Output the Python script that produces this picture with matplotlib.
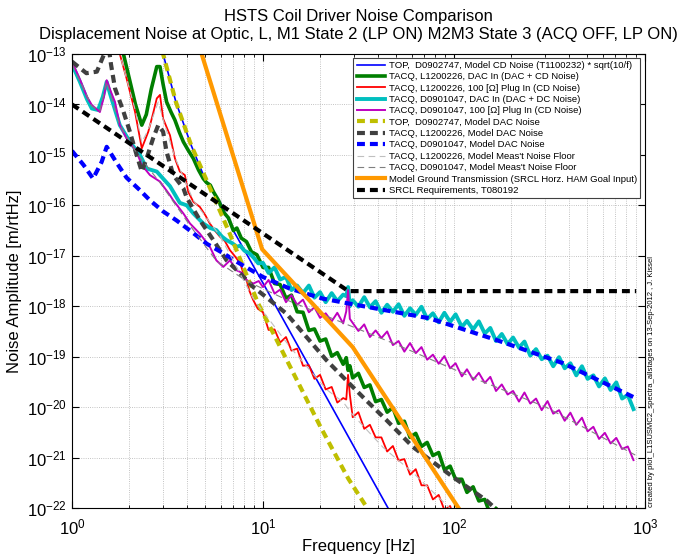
import matplotlib
matplotlib.use('Agg')
import matplotlib.pyplot as plt
import numpy as np

plt.rcParams['font.family'] = ['Liberation Sans', 'DejaVu Sans']
plt.rcParams['mathtext.fontset'] = 'custom'
plt.rcParams['mathtext.rm'] = 'Liberation Sans'
plt.rcParams['mathtext.it'] = 'Liberation Sans:italic'
plt.rcParams['mathtext.bf'] = 'Liberation Sans:bold'

# shared frequency vector [Hz] of the measured spectra above 10 Hz
F_HI = [10.0, 10.7, 11.5, 12.3, 13.2, 14.1, 15.1, 16.2, 17.4, 18.6, 19.9, 21.3, 22.9, 24.5,
        26.3, 27.3, 27.9, 28.5, 29.5, 31.6, 33.9, 36.3, 38.9, 41.7, 44.7, 47.9, 51.3, 55.0,
        58.9, 63.1, 67.6, 72.4, 77.6, 83.2, 89.1, 95.5, 102, 110, 117, 126, 135, 145, 155,
        166, 178, 191, 204, 219, 234, 251, 269, 288, 309, 331, 355, 380, 407, 437, 468, 501,
        537, 575, 617, 661, 708, 759, 813, 871]

# amplitudes are stored as log10 [m/rtHz]
# TACQ L1200226, DAC in
green_f_lo = [1.75, 1.86, 2.0, 2.15, 2.32, 2.45, 2.6, 2.78, 2.89, 3.0, 3.13, 3.3, 3.46, 3.65,
              3.83, 4.05, 4.32, 4.6, 4.87, 5.07, 5.3, 5.5, 5.85, 6.2, 6.6, 7.0, 7.3, 7.7, 8.2,
              8.7, 9.3]
green_lo = [-12.6, -13.0, -13.5, -14.0, -14.41, -14.2, -13.7, -13.25, -13.25, -13.6, -13.95,
            -14.15, -14.31, -14.55, -14.74, -14.9, -15.07, -15.3, -15.47, -15.55, -15.6, -15.73,
            -15.9, -16.13, -16.25, -16.5, -16.45, -16.65, -16.72, -16.92, -16.98]
green_hi = [-17.23, -17.23, -17.55, -17.57, -17.84, -17.78, -18.11, -18.12, -18.48, -18.45,
            -18.69, -18.65, -18.99, -18.92, -19.15, -19.02, -19.27, -19.18, -19.42, -19.33,
            -19.61, -19.56, -19.89, -19.85, -20.10, -20.01, -20.32, -20.28, -20.60, -20.52,
            -20.78, -20.70, -20.96, -20.90, -21.24, -21.17, -21.43, -21.43, -21.69, -21.58,
            -21.86, -21.83, -22.13, -22.01]

# TACQ L1200226, 100 Ohm plug
red_f_lo = [1.7, 1.78, 1.93, 2.14, 2.32, 2.51, 2.65, 2.78, 2.89, 3.0, 3.13, 3.26, 3.46, 3.67,
            3.9, 4.06, 4.32, 4.67, 5.0, 5.27, 5.6, 5.95, 6.3, 6.72, 7.1, 7.6, 7.9, 8.2, 8.5,
            8.9, 9.4]
red_lo = [-12.75, -13.0, -13.48, -14.15, -14.87, -14.54, -14.2, -13.88, -13.81, -14.28, -14.45,
          -14.61, -15.07, -15.33, -15.4, -15.73, -15.93, -16.03, -16.2, -16.36, -16.5, -16.62,
          -16.7, -16.89, -17.0, -17.15, -17.35, -17.48, -17.7, -17.88, -18.05]
red_hi = [-18.12, -18.47, -18.46, -18.72, -18.61, -18.88, -18.84, -19.18, -19.17, -19.44,
          -19.36, -19.65, -19.60, -19.91, -19.82, -19.85, -19.36, -19.75, -20.20, -20.10,
          -20.43, -20.35, -20.60, -20.60, -20.88, -20.77, -21.06, -21.03, -21.34, -21.23,
          -21.55, -21.55, -21.83, -21.74, -22.04, -21.96, -22.29, -22.26]

# TACQ D0901047, DAC in
cyan_f_lo = [1.0, 1.1, 1.2, 1.27, 1.37, 1.45, 1.52, 1.58, 1.65, 1.78, 2.01, 2.27, 2.46, 2.78,
             3.0, 3.26, 3.67, 3.99, 4.32, 4.87, 5.3, 5.7, 6.1, 6.45, 6.9, 7.3, 7.6, 8.0, 8.5,
             9.0, 9.45]
cyan_lo = [-13.2, -13.55, -13.9, -14.08, -14.11, -13.85, -13.55, -13.78, -14.01, -14.41, -14.74,
           -15.0, -15.27, -15.33, -15.47, -15.62, -15.95, -16.0, -16.16, -16.36, -16.45, -16.49,
           -16.62, -16.69, -16.75, -16.82, -16.8, -16.9, -16.95, -17.05, -17.15]
cyan_hi = [-17.14, -17.34, -17.23, -17.47, -17.42, -17.68, -17.59, -17.74, -17.59, -17.83,
           -17.72, -17.92, -17.74, -17.90, -17.77, -17.80, -17.62, -18.00, -17.88, -18.01,
           -17.82, -18.02, -17.90, -18.13, -17.97, -18.11, -17.96, -18.19, -18.04, -18.17,
           -18.01, -18.25, -18.14, -18.32, -18.13, -18.31, -18.16, -18.41, -18.29, -18.46,
           -18.30, -18.54, -18.43, -18.69, -18.55, -18.75, -18.62, -18.82, -18.70, -18.98,
           -18.85, -19.05, -18.98, -19.19, -19.01, -19.23, -19.13, -19.37, -19.19, -19.44,
           -19.37, -19.59, -19.43, -19.66, -19.51, -19.83, -19.76, -20.04]

# TACQ D0901047, 100 Ohm plug
mag_f_lo = [1.0, 1.1, 1.2, 1.27, 1.4, 1.47, 1.52, 1.6, 1.68, 1.78, 1.93, 2.18, 2.32, 2.56, 2.89,
            3.26, 3.39, 3.83, 4.15, 4.67, 5.27, 5.7, 6.2, 6.72, 7.3, 7.9, 8.2, 8.9, 9.5]
mag_lo = [-13.15, -13.5, -13.85, -14.01, -14.15, -13.85, -13.52, -13.75, -13.95, -14.41, -14.67,
          -14.94, -15.2, -15.4, -15.53, -15.8, -15.9, -16.16, -16.36, -16.56, -16.82, -17.09,
          -17.22, -17.09, -17.29, -17.35, -17.48, -17.55, -17.5]
mag_hi = [-17.62, -17.48, -17.75, -17.67, -17.92, -17.78, -17.97, -17.87, -18.12, -18.02,
          -18.23, -18.14, -18.30, -18.13, -18.34, -18.10, -17.68, -18.25, -18.33, -18.49,
          -18.36, -18.61, -18.48, -18.63, -18.50, -18.77, -18.69, -18.90, -18.73, -18.93,
          -18.81, -19.06, -18.96, -19.14, -18.99, -19.23, -19.13, -19.39, -19.25, -19.46,
          -19.32, -19.52, -19.40, -19.68, -19.55, -19.75, -19.68, -19.89, -19.71, -19.93,
          -19.83, -20.06, -19.88, -20.13, -20.06, -20.27, -20.11, -20.35, -20.21, -20.48,
          -20.39, -20.63, -20.51, -20.72, -20.61, -20.83, -20.78, -21.05]

# models
top_cd_f = [2.8, 3.0, 3.5, 4.2, 5.0, 6.0, 7.0, 10, 20, 38, 50]
top_cd = [-12.6, -13.0, -13.95, -14.8, -15.5, -15.95, -16.5, -17.54, -19.59, -21.49, -22.3]

top_dac_f = [2.8, 3.0, 3.5, 4.2, 5.0, 6.7, 9.45, 11.8, 20, 28, 38]
top_dac = [-12.7, -13.0, -13.95, -14.8, -15.45, -16.56, -17.95, -18.67, -20.39, -21.42, -22.2]

l12_dac_f = [1.0, 1.19, 1.35, 1.55, 1.6, 1.68, 1.86, 2.01, 2.18, 2.32, 2.46, 2.66, 2.83, 3.0,
             3.13, 3.39, 3.83, 3.99, 4.67, 5.5, 6.45, 7.6, 8.9, 10.4, 13.3, 16.9, 21.5, 27.3,
             34.8, 44.4, 61, 100, 148, 175]
l12_dac = [-13.15, -13.38, -13.35, -12.8, -13.2, -13.68, -14.14, -14.54, -15.0, -15.33, -15.07,
           -14.67, -14.41, -14.54, -14.94, -15.4, -15.66, -15.85, -16.29, -16.69, -17.09, -17.35,
           -17.62, -17.82, -18.15, -18.61, -19.07, -19.47, -19.87, -20.26, -20.79, -21.4,
           -21.85, -22.1]

d09_dac_f = [1.0, 1.15, 1.29, 1.43, 1.52, 1.71, 1.93, 2.27, 2.56, 3.0, 3.53, 4.32, 5.07, 6.2,
             7.3, 10, 13.8, 20.6, 34.8, 74.5, 167, 373, 870]
d09_dac = [-14.92, -15.2, -15.47, -15.14, -14.84, -15.15, -15.45, -15.7, -15.9, -16.12, -16.3,
           -16.55, -16.76, -16.95, -17.12, -17.42, -17.65, -17.85, -18.01, -18.24, -18.67,
           -19.13, -19.8]

l12_floor_f = [1.75, 2.14, 2.32, 2.51, 2.83, 3.0, 3.46, 4.32, 5.95, 8.9, 13.8, 21.5, 26.3, 29.5,
               42.6, 61, 95]
l12_floor = [-12.9, -14.1, -14.75, -14.5, -13.95, -14.3, -15.05, -15.9, -16.6, -17.85, -18.8,
             -19.65, -19.9, -20.15, -20.8, -21.3, -22.0]

d09_floor_f = [1.0, 1.27, 1.4, 1.52, 1.78, 2.18, 2.89, 4.15, 5.7, 8.2, 13.8, 26.3, 50, 136,
               303, 890]
d09_floor = [-13.2, -14.03, -14.13, -13.55, -14.42, -14.96, -15.55, -16.4, -17.1, -17.5, -17.9,
             -18.33, -18.76, -19.47, -20.0, -20.95]

ground_f = [4.6, 9.9, 29.5, 110]
ground = [-12.8, -16.87, -18.81, -22.1]

srcl_f = [1.0, 28, 900]
srcl = [-14.0, -17.7, -17.7]

labels = ['TOP,  D0902747, Model CD Noise (T1100232) * sqrt(10/f)',
          'TACQ, L1200226, DAC In (DAC + CD Noise)',
          'TACQ, L1200226, 100 [Ω] Plug In (CD Noise)',
          'TACQ, D0901047, DAC In (DAC + DC Noise)',
          'TACQ, D0901047, 100 [Ω] Plug In (CD Noise)',
          'TOP,  D0902747, Model DAC Noise',
          'TACQ, L1200226, Model DAC Noise',
          'TACQ, D0901047, Model DAC Noise',
          "TACQ, L1200226, Model Meas't Noise Floor",
          "TACQ, D0901047, Model Meas't Noise Floor",
          'Model Ground Transmission (SRCL Horz. HAM Goal Input)',
          'SRCL Requirements, T080192']


def meas(f_lo, lo, hi):
    f = np.concatenate([f_lo, F_HI[:len(hi)]])
    return f, 10.0 ** np.concatenate([lo, hi])


fig = plt.figure(figsize=(6.9, 5.54), dpi=100)
ax = fig.add_axes([0.1043, 0.083, 0.8304, 0.8195])

dsh = (0, (1.9, 1.2))
ax.loglog(top_cd_f, 10.0 ** np.array(top_cd), color='#0000ff', lw=1.2, label=labels[0])
ax.loglog(*meas(green_f_lo, green_lo, green_hi), color='#007f00', lw=2.6, label=labels[1])
ax.loglog(*meas(red_f_lo, red_lo, red_hi), color='#ff0000', lw=1.3, label=labels[2])
ax.loglog(*meas(cyan_f_lo, cyan_lo, cyan_hi), color='#00bfbf', lw=2.8, label=labels[3])
ax.loglog(*meas(mag_f_lo, mag_lo, mag_hi), color='#bf00bf', lw=1.4, label=labels[4])
ax.loglog(top_dac_f, 10.0 ** np.array(top_dac), color='#bfbf00', lw=3, ls=dsh, label=labels[5])
ax.loglog(l12_dac_f, 10.0 ** np.array(l12_dac), color='#404040', lw=3, ls=dsh, label=labels[6])
ax.loglog(d09_dac_f, 10.0 ** np.array(d09_dac), color='#0000ff', lw=3, ls=dsh, label=labels[7])
ax.loglog(l12_floor_f, 10.0 ** np.array(l12_floor), color='#bfbfbf', lw=0.8,
          ls=(0, (6, 4)), label=labels[8])
ax.loglog(d09_floor_f, 10.0 ** np.array(d09_floor), color='#7f7f7f', lw=0.8,
          ls=(0, (6, 4)), label=labels[9])
ax.loglog(ground_f, 10.0 ** np.array(ground), color='#ff9900', lw=3, label=labels[10])
ax.loglog(srcl_f, 10.0 ** np.array(srcl), color='black', lw=3, ls=dsh, label=labels[11])

ax.set_xlim(1, 1000)
ax.set_ylim(1e-22, 1e-13)
ax.grid(True, which='both', ls=':', color='#b0b0b0', lw=0.6)
ax.tick_params(which='both', direction='in', top=True, right=True, labelsize=12)
ax.tick_params(axis='x', which='major', pad=7)
ax.tick_params(which='major', length=5)
ax.tick_params(which='minor', length=2.5)
ax.set_yticks([10.0 ** k for k in range(-22, -12)])

ax.set_xlabel('Frequency [Hz]', fontsize=12, labelpad=1)
ax.set_ylabel('Noise Amplitude [m/rtHz]', fontsize=12, labelpad=4)
ax.set_title('HSTS Coil Driver Noise Comparison\n'
             'Displacement Noise at Optic, L, M1 State 2 (LP ON) M2M3 State 3 (ACQ OFF, LP ON)',
             fontsize=12, pad=11)

leg = ax.legend(loc='upper right', bbox_to_anchor=(0.992, 0.992), fontsize=6.8,
                labelspacing=0.25, handlelength=3.0, handletextpad=0.4, borderpad=0.35,
                fancybox=False, framealpha=1, edgecolor='#404040', borderaxespad=0)
leg.get_frame().set_linewidth(0.8)

fig.text(0.9435, 0.085, 'created by plot_L1SUSMC2_spectra_allstages on 13-Sep-2012 , J. Kissel',
         rotation=90, fontsize=5.5, ha='center', va='bottom')

fig.savefig('out.png', dpi=100)
